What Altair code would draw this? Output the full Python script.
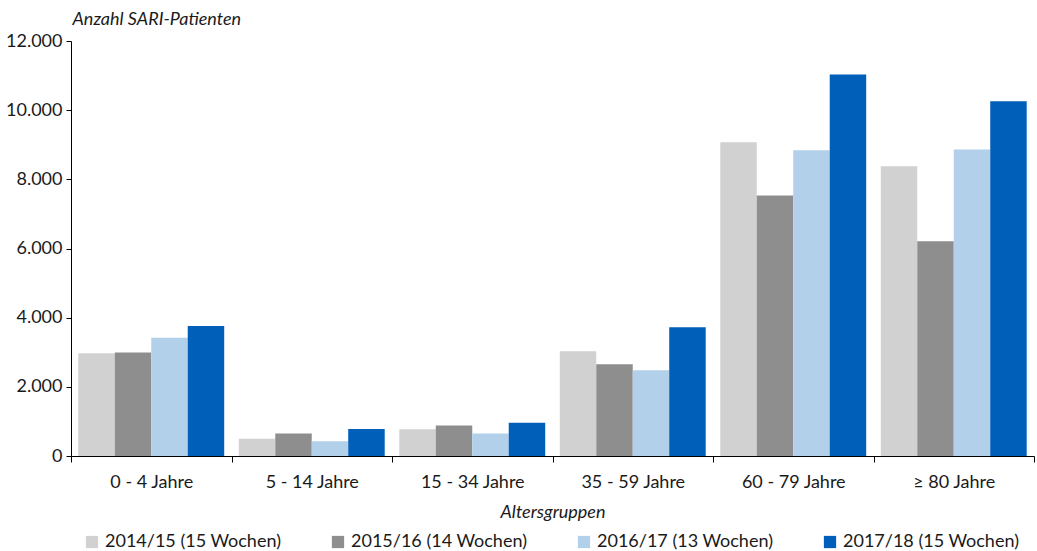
import altair as alt
import pandas as pd

# Age groups and seasons
groups = ["0 - 4 Jahre", "5 - 14 Jahre", "15 - 34 Jahre", "35 - 59 Jahre", "60 - 79 Jahre", "≥ 80 Jahre"]
seasons = ["2014/15 (15 Wochen)", "2015/16 (14 Wochen)", "2016/17 (13 Wochen)", "2017/18 (15 Wochen)"]
colors = ["#d0d1d0", "#8e8e8e", "#b2d0ea", "#005fb8"]

# SARI patients per age group, one list per season
s2014 = [2970, 500, 770, 3030, 9070, 8380]
s2015 = [2990, 650, 880, 2650, 7530, 6210]
s2016 = [3420, 430, 650, 2480, 8840, 8860]
s2017 = [3760, 780, 960, 3720, 11030, 10260]

rows = []
for season, vals in zip(seasons, [s2014, s2015, s2016, s2017]):
    for g, v in zip(groups, vals):
        rows.append({"Altersgruppe": g, "Saison": season, "Anzahl": v})
df = pd.DataFrame(rows)

FONT = "Lato"

bars = alt.Chart(df).mark_bar().encode(
    x=alt.X(
        "Altersgruppe:N",
        sort=groups,
        scale=alt.Scale(paddingInner=0, paddingOuter=0),
        axis=alt.Axis(
            title="Altersgruppen",
            titleFontStyle="italic",
            titleFontWeight="normal",
            titleFontSize=18,
            titlePadding=12,
            labelAngle=0,
            labelFontSize=18,
            labelPadding=11,
            tickBand="extent",
            tickSize=6,
            tickColor="#000000",
            domainColor="#000000",
            labelColor="#1a1a1a",
            titleColor="#1a1a1a",
        ),
    ),
    xOffset=alt.XOffset("Saison:N", sort=seasons,
                        scale=alt.Scale(paddingInner=0, paddingOuter=0.2)),
    y=alt.Y(
        "Anzahl:Q",
        scale=alt.Scale(domain=[0, 12000], nice=False),
        axis=alt.Axis(
            title="Anzahl SARI-Patienten",
            titleAngle=0,
            titleAlign="left",
            titleBaseline="alphabetic",
            titleX=1,
            titleY=-17,
            titleFontStyle="italic",
            titleFontWeight="normal",
            titleFontSize=18,
            values=[0, 2000, 4000, 6000, 8000, 10000, 12000],
            labelExpr="replace(format(datum.value, ','), ',', '.')",
            labelFontSize=18,
            labelPadding=4,
            tickSize=5,
            tickColor="#000000",
            domainColor="#000000",
            grid=False,
            labelColor="#1a1a1a",
            titleColor="#1a1a1a",
        ),
    ),
    color=alt.Color(
        "Saison:N",
        sort=seasons,
        scale=alt.Scale(domain=seasons, range=colors),
        legend=alt.Legend(
            title=None,
            orient="none",
            legendX=12,
            legendY=492,
            direction="horizontal",
            columns=4,
            symbolType="square",
            symbolSize=150,
            symbolStrokeWidth=0,
            labelFontSize=18,
            labelLimit=300,
            columnPadding=47,
            labelColor="#1a1a1a",
        ),
    ),
)

chart = bars.properties(
    width=963,
    height=415,
    padding={"left": 71, "top": 41, "right": 3, "bottom": 95},
    autosize=alt.AutoSizeParams(type="none"),
).configure(
    font=FONT,
).configure_view(
    stroke=None,
)

chart.save("out.html", embed_options={"renderer": "svg", "actions": False})
